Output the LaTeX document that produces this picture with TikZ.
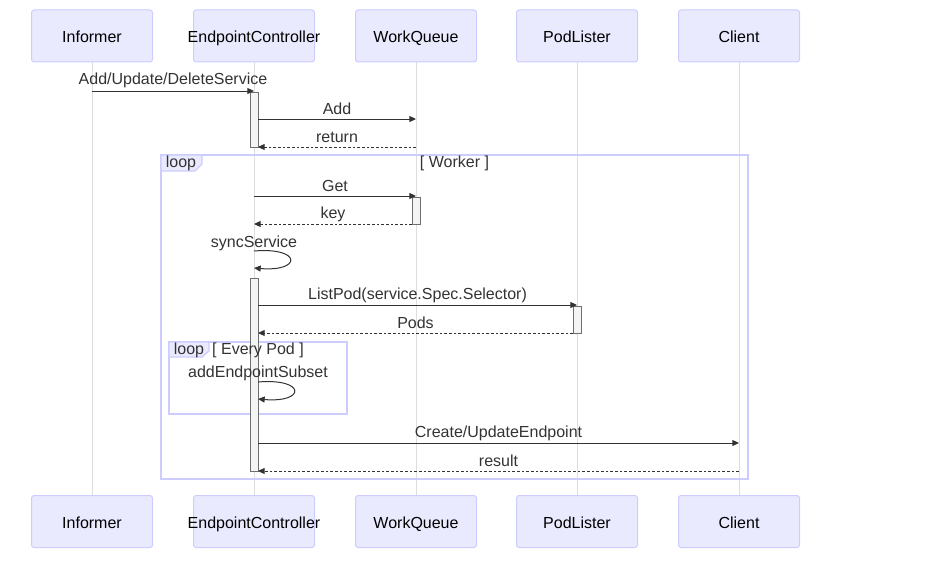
\documentclass[tikz,border=0pt]{standalone}
\usepackage{fontspec}
\setmainfont{Liberation Sans}
\usetikzlibrary{arrows.meta,positioning}
\definecolor{actorfill}{RGB}{234,234,255}
\definecolor{actorline}{RGB}{204,204,255}
\definecolor{lifegray}{RGB}{222,222,222}
\definecolor{msgline}{RGB}{51,51,51}
\definecolor{actfill}{RGB}{244,244,244}
\definecolor{actline}{RGB}{110,110,110}
\tikzset{every picture/.style={line width=0.75pt}}
\tikzset{
  actor/.style={draw=actorline,fill=actorfill,rounded corners=2pt,minimum width=90.75pt,minimum height=39pt,inner sep=0pt,
    text height=10pt,text depth=0pt,font=\fontsize{12}{14}\selectfont,
    execute at begin node={\hbox to 0pt\bgroup\hss},execute at end node={\hss\egroup}},
  lifeline/.style={draw=lifegray,line width=0.75pt},
  msg/.style={draw=msgline,line width=0.75pt,-{Triangle[length=5pt,width=4.5pt]}},
  reply/.style={msg,dash pattern=on 2pt off 1.5pt},
  actbar/.style={draw=actline,fill=actfill,line width=0.75pt},
  frame/.style={draw=actorline,line width=1pt},
  lbl/.style={font=\fontsize{12}{14}\selectfont,text=msgline,inner sep=0pt}
}

\begin{document}
\begin{tikzpicture}[x=0.75pt,y=0.75pt,yscale=-1,xscale=1]
	\useasboundingbox (0,0) rectangle (927,560);

	% actors (top and bottom)
	\node[actor] (inf) at (92,36) {Informer};
	\node[actor] (ec) at (254,36) {EndpointController};
	\node[actor] (wq) at (416,36) {WorkQueue};
	\node[actor] (pl) at (577,36) {PodLister};
	\node[actor] (cl) at (739,36) {Client};
	\node[actor] (inf2) at (92,521.5) {Informer};
	\node[actor] (ec2) at (254,521.5) {EndpointController};
	\node[actor] (wq2) at (416,521.5) {WorkQueue};
	\node[actor] (pl2) at (577,521.5) {PodLister};
	\node[actor] (cl2) at (739,521.5) {Client};

	% lifelines
	\foreach \a in {inf,ec,wq,pl,cl}
		\draw[lifeline] (\a.south) -- (\a2.north);

	% loop frames
	\draw[frame] (161,155) rectangle (748,479);
	\draw[frame,fill=actorfill] (161,155) -- (202,155) -- (202,164) -- (195,171) -- (161,171) -- cycle;
	\draw[frame] (169,342) rectangle (347,414);
	\draw[frame,fill=actorfill] (169,342) -- (209,342) -- (209,351) -- (202,357) -- (169,357) -- cycle;

	% activations
	\draw[actbar] (250,92) rectangle (258,147);
	\draw[actbar] (412,197) rectangle (420,224);
	\draw[actbar] (250,278) rectangle (258,471);
	\draw[actbar] (573,306) rectangle (581,333);

	% frame labels
	\node[lbl] (lpw) at (181,163.5) {loop};
	\node[lbl] (lpwc) at (454.5,163.5) {[ Worker ]};
	\node[lbl] (lpp) at (189,350.5) {loop};
	\node[lbl] (lppc) at (258,350.5) {[ Every Pod ]};

	% messages
	\draw[msg] (inf |- 0,91) -- (ec |- 0,91) node[lbl,midway,yshift=8pt] {Add/Update/DeleteService};
	\draw[msg] ([xshift=3pt]ec.center |- 0,119) -- (wq |- 0,119) node[lbl,midway,yshift=7.5pt] {Add};
	\draw[reply] (wq |- 0,147) -- ([xshift=3pt]ec.center |- 0,147) node[lbl,midway,yshift=7.5pt] {return};
	\draw[msg] (ec |- 0,196) -- (wq |- 0,196) node[lbl,midway,yshift=7.5pt] {Get};
	\draw[reply] ([xshift=-3pt]wq.center |- 0,224) -- (ec |- 0,224) node[lbl,midway,yshift=7.5pt] {key};
	\node[lbl] (sync) at (254,243.5) {syncService};
	\draw[msg] (ec |- 0,251) .. controls (302,247) and (302,272) .. (ec |- 0,268);
	\draw[msg] ([xshift=3pt]ec.center |- 0,305) -- (pl |- 0,305) node[lbl,midway,yshift=7.5pt] {ListPod(service.Spec.Selector)};
	\draw[reply] ([xshift=-3pt]pl.center |- 0,333) -- ([xshift=3pt]ec.center |- 0,333) node[lbl,midway,yshift=7.5pt] {Pods};
	\node[lbl] (addsub) at (258,373.5) {addEndpointSubset};
	\draw[msg] ([xshift=3pt]ec.center |- 0,382) .. controls (306,378) and (306,403) .. ([xshift=3pt]ec.center |- 0,399);
	\draw[msg] ([xshift=3pt]ec.center |- 0,443) -- (cl |- 0,443) node[lbl,midway,yshift=7.5pt] {Create/UpdateEndpoint};
	\draw[reply] (cl |- 0,471) -- ([xshift=3pt]ec.center |- 0,471) node[lbl,midway,yshift=7.5pt] {result};
\end{tikzpicture}
\end{document}
